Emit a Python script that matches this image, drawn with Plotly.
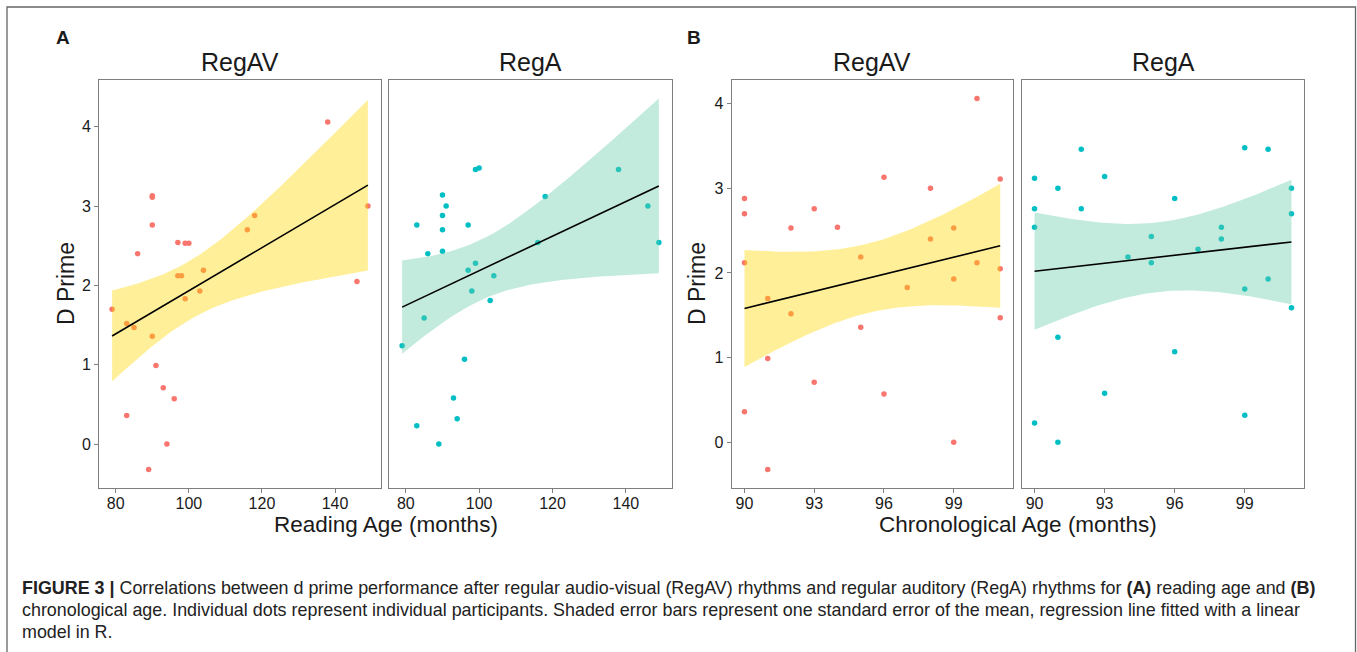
import numpy as np
import plotly.graph_objects as go

W, H = 1357, 652

# ---- data: one entry per participant ----
reading_age = [138, 90, 90, 149, 118, 90, 116, 100, 99, 97, 86, 104, 97, 98, 146,
               103, 99, 79, 83, 85, 90, 91, 93, 96, 83, 94, 89]
chrono_age = [100, 96, 101, 98, 90, 93, 90, 99, 92, 94, 98, 95, 90, 100, 101,
              99, 97, 91, 92, 101, 95, 91, 93, 96, 90, 99, 91]
dprime_regav = [4.06, 3.13, 3.11, 3.00, 2.88, 2.76, 2.70, 2.53, 2.53, 2.54, 2.40, 2.19,
                2.12, 2.12, 2.05, 1.93, 1.83, 1.70, 1.52, 1.47, 1.36, 0.99, 0.71, 0.57,
                0.36, 0.00, -0.32]
dprime_rega = [3.46, 2.88, 2.70, 2.54, 3.12, 3.14, 2.54, 3.48, 3.46, 2.19, 2.40, 2.12,
               2.76, 1.93, 3.00, 1.81, 2.28, 1.24, 2.76, 1.59, 2.43, 3.00, 0.58, 1.07,
               0.23, 0.32, 0.00]

conditions = ["RegAV", "RegA"]
ticks_reading = [80, 100, 120, 140]
ticks_chrono = [90, 93, 96, 99]
ticks_dprime = [0, 1, 2, 3, 4]

T975_DF25 = 2.059539  # t quantile for 95% CI, n-2 = 25 df

RED = "#F8766D"
TEAL = "#00BFC4"
FILL_AV = "rgba(255,215,0,0.40)"
FILL_A = "rgba(102,205,170,0.40)"
FONT = "Liberation Sans, Arial, Helvetica, sans-serif"


def lm_band(x, y, n_grid=80):
    x = np.asarray(x, float)
    y = np.asarray(y, float)
    n = len(x)
    xm, ym = x.mean(), y.mean()
    sxx = ((x - xm) ** 2).sum()
    b = ((x - xm) * (y - ym)).sum() / sxx
    a = ym - b * xm
    resid = y - (a + b * x)
    s = np.sqrt((resid ** 2).sum() / (n - 2))
    xs = np.linspace(x.min(), x.max(), n_grid)
    fit = a + b * xs
    se = s * np.sqrt(1.0 / n + (xs - xm) ** 2 / sxx)
    return xs, fit, fit - T975_DF25 * se, fit + T975_DF25 * se


def px2x(px):
    return px / W


def px2y(py):
    return 1 - py / H


fig = go.Figure()

panels = [
    (reading_age, dprime_regav, RED, FILL_AV, ""),
    (reading_age, dprime_rega, TEAL, FILL_A, "2"),
    (chrono_age, dprime_regav, RED, FILL_AV, "3"),
    (chrono_age, dprime_rega, TEAL, FILL_A, "4"),
]

yext = {"A": [], "B": []}
for i, (xd, yd, col, fill, ax) in enumerate(panels):
    xs, fit, lo, hi = lm_band(xd, yd)
    xa = "x" + ax
    ya = "y" + ax
    fig.add_trace(go.Scatter(x=xd, y=yd, mode="markers", xaxis=xa, yaxis=ya,
                             marker=dict(color=col, size=5.5, line=dict(width=0)),
                             showlegend=False, hoverinfo="skip"))
    fig.add_trace(go.Scatter(x=np.concatenate([xs, xs[::-1]]),
                             y=np.concatenate([hi, lo[::-1]]),
                             mode="lines", fill="toself", fillcolor=fill,
                             line=dict(width=0, color="rgba(0,0,0,0)"),
                             xaxis=xa, yaxis=ya, showlegend=False, hoverinfo="skip"))
    fig.add_trace(go.Scatter(x=xs, y=fit, mode="lines", xaxis=xa, yaxis=ya,
                             line=dict(color="black", width=1.6),
                             showlegend=False, hoverinfo="skip"))
    key = "A" if i < 2 else "B"
    yext[key] += [min(yd), max(yd)]


def expand(lo, hi, f=0.05):
    d = hi - lo
    return [lo - f * d, hi + f * d]


xr_A = expand(min(reading_age), max(reading_age))
xr_B = expand(min(chrono_age), max(chrono_age))
yr_A = expand(min(yext["A"]), max(max(yext["A"]), max(lm_band(reading_age, dprime_regav)[3]),
                                  max(lm_band(reading_age, dprime_rega)[3])))
yr_B = expand(min(yext["B"]), max(yext["B"]))

ytop, ybot = 80, 488
ydom = [px2y(ybot), px2y(ytop)]
xdoms = [[99.3, 380.7], [389.3, 671.7], [731.7, 1013.0], [1021.7, 1304.3]]

axis_common = dict(showline=True, mirror=True, linecolor="#7f7f7f", linewidth=1.2,
                   ticks="outside", ticklen=4, tickcolor="#7f7f7f", tickwidth=1.2,
                   showgrid=False, zeroline=False,
                   tickfont=dict(family=FONT, size=16, color="#1a1a1a"))

layout = dict(width=W, height=H, margin=dict(l=0, r=0, t=0, b=0),
              paper_bgcolor="white", plot_bgcolor="white",
              font=dict(family=FONT, color="#1a1a1a"), showlegend=False)

for i, dom in enumerate(xdoms):
    suf = "" if i == 0 else str(i + 1)
    xr = xr_A if i < 2 else xr_B
    xt = ticks_reading if i < 2 else ticks_chrono
    yr = yr_A if i < 2 else yr_B
    layout["xaxis" + suf] = dict(axis_common, domain=[px2x(dom[0]), px2x(dom[1])],
                                 range=xr, tickvals=xt, anchor="y" + suf,
                                 ticklabelstandoff=-3)
    yax = dict(axis_common, domain=ydom, range=yr, tickvals=ticks_dprime,
               anchor="x" + suf)
    if i in (1, 3):
        yax.update(showticklabels=False, ticks="")
    layout["yaxis" + suf] = yax

fig.update_layout(**layout)

ann = []
ann.append(dict(text="<b>A</b>", x=px2x(63), y=px2y(37), font=dict(size=19)))
ann.append(dict(text="<b>B</b>", x=px2x(694), y=px2y(37), font=dict(size=19)))
for i, dom in enumerate(xdoms):
    ann.append(dict(text=conditions[i % 2], x=px2x((dom[0] + dom[1]) / 2), y=px2y(62),
                    font=dict(size=25)))
ann.append(dict(text="Reading Age (months)", x=px2x((99.3 + 671.7) / 2), y=px2y(524),
                font=dict(size=22.5)))
ann.append(dict(text="Chronological Age (months)", x=px2x((731.7 + 1304.3) / 2), y=px2y(524),
                font=dict(size=22.5)))
ann.append(dict(text="D Prime", x=px2x(66), y=px2y(284), textangle=-90, font=dict(size=23)))
ann.append(dict(text="D Prime", x=px2x(697), y=px2y(284), textangle=-90, font=dict(size=23)))

cap = [
    "<b>FIGURE 3 |</b> Correlations between d prime performance after regular audio-visual (RegAV) "
    "rhythms and regular auditory (RegA) rhythms for <b>(A)</b> reading age and <b>(B)</b>",
    "chronological age. Individual dots represent individual participants. Shaded error bars "
    "represent one standard error of the mean, regression line fitted with a linear",
    "model in R.",
]
for k, line in enumerate(cap):
    ann.append(dict(text=line, x=px2x(20), y=px2y(588 + 22 * k), xanchor="left",
                    font=dict(size=17.9, color="#222")))

for a in ann:
    a.setdefault("xanchor", "center")
    a.update(xref="paper", yref="paper", yanchor="middle", showarrow=False)
    a["font"] = dict(dict(family=FONT, color="#1a1a1a"), **a["font"])
fig.update_layout(annotations=ann)

fig.add_shape(type="rect", xref="paper", yref="paper",
              x0=px2x(7), x1=px2x(1355.5), y0=-0.05, y1=px2y(7),
              line=dict(color="#666", width=1.3), fillcolor="rgba(0,0,0,0)")

fig.write_html("out.html", config={"displayModeBar": False},
               post_script="document.body.style.margin='0px';document.body.style.padding='0px';")
